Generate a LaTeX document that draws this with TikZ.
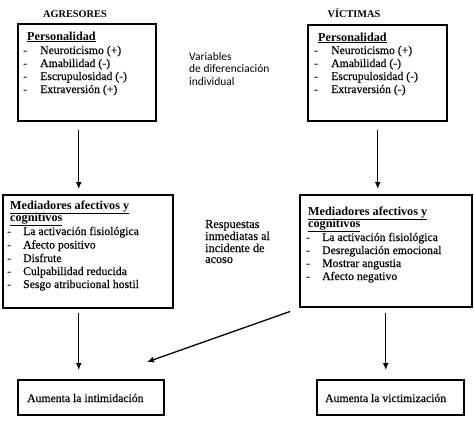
\documentclass[tikz,border=0pt]{standalone}
\usepackage{fontspec}
\setmainfont{Liberation Serif}
\newfontfamily\itemfont{Liberation Serif}[FakeBold=0.4]
\newfontfamily\calib{Carlito}
\usetikzlibrary{arrows.meta,calc}
\newcommand\dashA{\makebox[17pt][l]{-}}
\newcommand\dashB{\makebox[16pt][l]{-}}
\begin{document}
\begin{tikzpicture}[x=1pt,y=-1pt,
  box/.style={draw,line width=1.5pt,inner sep=0pt,anchor=north west},
  txt/.style={anchor=base west,inner sep=0pt,font=\itemfont\fontsize{11.7}{13}\selectfont},
  hd/.style={anchor=base west,inner sep=0pt,font=\fontsize{12.2}{13}\selectfont\bfseries},
  ttl/.style={anchor=base,inner sep=0pt,font=\fontsize{10.3}{12}\selectfont\bfseries},
  side/.style={anchor=base west,inner sep=0pt,font=\calib\fontsize{11.5}{12}\selectfont},
  side2/.style={anchor=base west,inner sep=0pt,font=\itemfont\fontsize{12.2}{12}\selectfont},
  arr/.style={line width=1.3pt,-{Latex[length=7pt,width=6pt]}}
]
\useasboundingbox (0,0) rectangle (474,426);
% boxes
\node[box,minimum width=138pt,minimum height=97pt] (tl) at (17,23) {};
\node[box,minimum width=139pt,minimum height=96pt] (tr) at (307,24) {};
\node[box,minimum width=170pt,minimum height=113pt] (ml) at (2,194) {};
\node[box,minimum width=172pt,minimum height=112pt] (mr) at (299,194) {};
\node[box,minimum width=146pt,minimum height=35pt] (bl) at (17,379) {};
\node[box,minimum width=147pt,minimum height=35pt] (br) at (316,379) {};
% titles
\node[ttl] (agr) at (75,17) {AGRESORES};
\node[ttl] (vic) at (354,17) {VÍCTIMAS};
% top left
\node[hd] (tlh) at (27,40) {\underline{Personalidad}};
\node[txt] (tl1) at (23,54) {\dashA Neuroticismo (+)};
\node[txt] (tl2) at (23,67) {\dashA Amabilidad (-)};
\node[txt] (tl3) at (23,80) {\dashA Escrupulosidad (-)};
\node[txt] (tl4) at (23,93) {\dashA Extraversión (+)};
% top right
\node[hd] (trh) at (318,41) {\underline{Personalidad}};
\node[txt] (tr1) at (314,54) {\dashA Neuroticismo (+)};
\node[txt] (tr2) at (314,67) {\dashA Amabilidad (-)};
\node[txt] (tr3) at (314,80) {\dashA Escrupulosidad (-)};
\node[txt] (tr4) at (314,93) {\dashA Extraversión (-)};
% middle left
\node[hd] (mlh1) at (10,209) {\underline{Mediadores afectivos y}};
\node[hd] (mlh2) at (10,221) {\underline{cognitivos}};
\node[txt] (ml1) at (7,235) {\dashB La activación fisiológica};
\node[txt] (ml2) at (7,248.5) {\dashB Afecto positivo};
\node[txt] (ml3) at (7,262) {\dashB Disfrute};
\node[txt] (ml4) at (7,275) {\dashB Culpabilidad reducida};
\node[txt] (ml5) at (7,288) {\dashB Sesgo atribucional hostil};
% middle right
\node[hd] (mrh1) at (308,215) {\underline{Mediadores afectivos y}};
\node[hd] (mrh2) at (308,227) {\underline{cognitivos}};
\node[txt] (mr1) at (306,241) {\dashB La activación fisiológica};
\node[txt] (mr2) at (306,254) {\dashB Desregulación emocional};
\node[txt] (mr3) at (306,267) {\dashB Mostrar angustia};
\node[txt] (mr4) at (306,280) {\dashB Afecto negativo};
% bottom
\node[txt] (blt) at (27,402) {Aumenta la intimidación};
\node[txt] (brt) at (325,402) {Aumenta la victimización};
% side labels
\node[side] (v1) at (189,60) {Variables};
\node[side] (v2) at (189,72) {de diferenciación};
\node[side] (v3) at (189,85) {individual};
\node[side2] (r1) at (205,228) {Respuestas};
\node[side2] (r2) at (205,240) {inmediatas al};
\node[side2] (r3) at (205,252) {incidente de};
\node[side2] (r4) at (205,263) {acoso};
% arrows
\draw[arr,shorten <=8pt,shorten >=5pt] ([xshift=-8pt]tl.south) -- ([xshift=-8pt]tl.south |- ml.north);
\draw[arr,shorten <=8pt,shorten >=5pt] ([xshift=0.5pt]tr.south) -- ([xshift=0.5pt]tr.south |- mr.north);
\draw[arr,shorten <=4pt,shorten >=9pt] ([xshift=-9pt]ml.south) -- ([xshift=-9pt]ml.south |- bl.north);
\draw[arr,shorten <=5pt,shorten >=9pt] (mr.south) -- (mr.south |- br.north);
\coordinate (dend) at (147,362);
\draw[arr] ([shift={(-9,4)}]mr.south west) -- (dend);
\end{tikzpicture}
\end{document}
